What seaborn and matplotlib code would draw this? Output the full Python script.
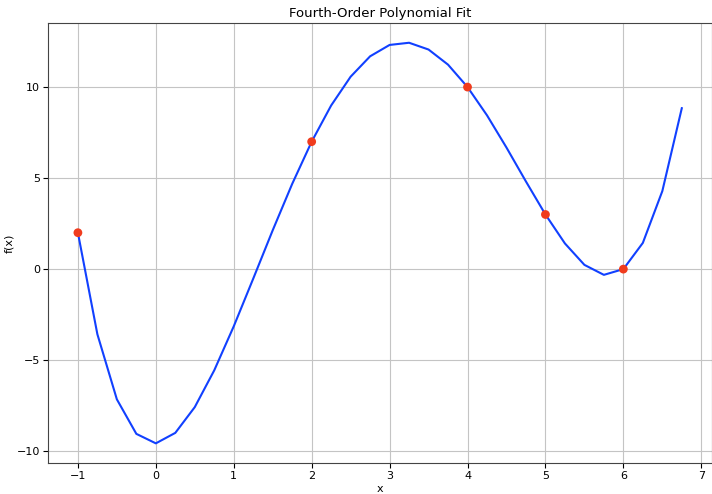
import numpy as np
import pandas as pd
import matplotlib
matplotlib.use("Agg")
import matplotlib.pyplot as plt
import seaborn as sns

# fitted curve, sampled every 0.25
x_fit = [-1.0, -0.75, -0.5, -0.25, 0.0, 0.25, 0.5, 0.75, 1.0, 1.25, 1.5, 1.75,
         2.0, 2.25, 2.5, 2.75, 3.0, 3.25, 3.5, 3.75, 4.0, 4.25, 4.5, 4.75,
         5.0, 5.25, 5.5, 5.75, 6.0, 6.25, 6.5, 6.75]
y_fit = [2.0, -3.578, -7.153, -9.050, -9.571, -8.996, -7.580, -5.558,
         -3.143, -0.524, 2.133, 4.681, 7.0, 8.989, 10.570, 11.690,
         12.314, 12.434, 12.061, 11.231, 10.0, 8.448, 6.677, 4.812,
         3.0, 1.410, 0.233, -0.316, 0.0, 1.440, 4.285, 8.839]

# data points
x_pts = [-1, 2, 4, 5, 6]
y_pts = [2, 7, 10, 3, 0]

fit_df = pd.DataFrame({"x": x_fit, "f(x)": y_fit})
pts_df = pd.DataFrame({"x": x_pts, "f(x)": y_pts})

fig, ax = plt.subplots(figsize=(7.12, 4.94), dpi=100)
sns.lineplot(data=fit_df, x="x", y="f(x)", color="#1140ff", linewidth=1.5, ax=ax)
sns.scatterplot(data=pts_df, x="x", y="f(x)", color="#f03c1e", s=40,
                edgecolor="none", zorder=3, ax=ax)

ax.grid(True, color="#c4c4c4", linewidth=0.8)
ax.set_axisbelow(True)
for sp in ax.spines.values():
    sp.set_color("#444444")
ax.set_title("Fourth-Order Polynomial Fit", fontsize=9.5, pad=4)
ax.set_xlabel("x", fontsize=8, labelpad=2)
ax.set_ylabel("f(x)", fontsize=8, labelpad=2)
ax.tick_params(labelsize=8, pad=2)

plt.subplots_adjust(left=0.067, right=1.0, bottom=0.062, top=0.954)
fig.savefig("out.png")
